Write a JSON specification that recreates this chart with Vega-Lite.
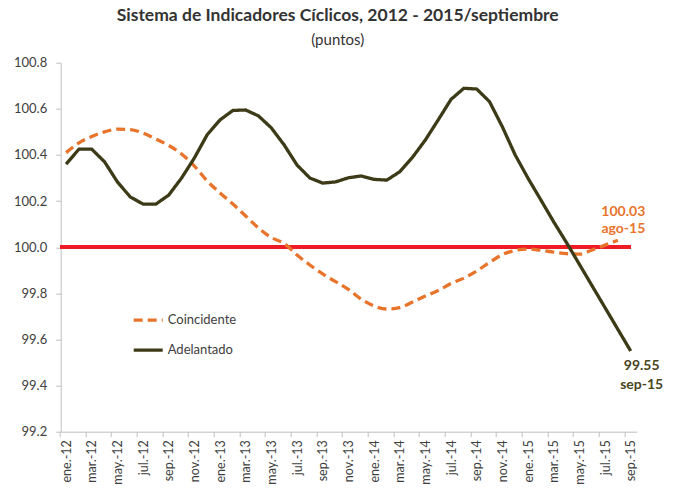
{
  "$schema": "https://vega.github.io/schema/vega-lite/v6.json",
  "autosize": {"type": "none"},
  "width": 576,
  "height": 369,
  "padding": {"left": 60.7, "top": 62.7, "right": 38.3, "bottom": 62.3},
  "background": "white",
  "config": {
    "view": {"stroke": null},
    "font": "Lato",
    "legend": {
      "orient": "none",
      "legendX": 71,
      "legendY": 241,
      "symbolType": "stroke",
      "symbolSize": 841,
      "symbolStrokeWidth": 3.3,
      "labelFontSize": 13,
      "labelColor": "#404040",
      "labelFont": "Lato",
      "labelOffset": 3,
      "rowPadding": 6,
      "padding": 0
    }
  },
  "title": {
    "text": "Sistema de Indicadores Cíclicos, 2012 - 2015/septiembre",
    "subtitle": "(puntos)",
    "anchor": "middle",
    "font": "Lato",
    "fontSize": 17.5,
    "fontWeight": "bold",
    "color": "#333333",
    "subtitleFont": "Lato",
    "subtitleFontSize": 15,
    "subtitleColor": "#333333",
    "subtitlePadding": 8,
    "offset": 9,
    "dx": -11
  },
  "datasets": {
    "series": [
      {"mes": "ene.-12", "i": 0, "serie": "Adelantado", "valor": 100.36},
      {"mes": "feb.-12", "i": 1, "serie": "Adelantado", "valor": 100.425},
      {"mes": "mar.-12", "i": 2, "serie": "Adelantado", "valor": 100.425},
      {"mes": "abr.-12", "i": 3, "serie": "Adelantado", "valor": 100.37},
      {"mes": "may.-12", "i": 4, "serie": "Adelantado", "valor": 100.283},
      {"mes": "jun.-12", "i": 5, "serie": "Adelantado", "valor": 100.218},
      {"mes": "jul.-12", "i": 6, "serie": "Adelantado", "valor": 100.187},
      {"mes": "ago.-12", "i": 7, "serie": "Adelantado", "valor": 100.187},
      {"mes": "sep.-12", "i": 8, "serie": "Adelantado", "valor": 100.226},
      {"mes": "oct.-12", "i": 9, "serie": "Adelantado", "valor": 100.3},
      {"mes": "nov.-12", "i": 10, "serie": "Adelantado", "valor": 100.387},
      {"mes": "dic.-12", "i": 11, "serie": "Adelantado", "valor": 100.488},
      {"mes": "ene.-13", "i": 12, "serie": "Adelantado", "valor": 100.552},
      {"mes": "feb.-13", "i": 13, "serie": "Adelantado", "valor": 100.593},
      {"mes": "mar.-13", "i": 14, "serie": "Adelantado", "valor": 100.595},
      {"mes": "abr.-13", "i": 15, "serie": "Adelantado", "valor": 100.569},
      {"mes": "may.-13", "i": 16, "serie": "Adelantado", "valor": 100.517},
      {"mes": "jun.-13", "i": 17, "serie": "Adelantado", "valor": 100.443},
      {"mes": "jul.-13", "i": 18, "serie": "Adelantado", "valor": 100.356},
      {"mes": "ago.-13", "i": 19, "serie": "Adelantado", "valor": 100.3},
      {"mes": "sep.-13", "i": 20, "serie": "Adelantado", "valor": 100.278},
      {"mes": "oct.-13", "i": 21, "serie": "Adelantado", "valor": 100.283},
      {"mes": "nov.-13", "i": 22, "serie": "Adelantado", "valor": 100.301},
      {"mes": "dic.-13", "i": 23, "serie": "Adelantado", "valor": 100.309},
      {"mes": "ene.-14", "i": 24, "serie": "Adelantado", "valor": 100.294},
      {"mes": "feb.-14", "i": 25, "serie": "Adelantado", "valor": 100.291},
      {"mes": "mar.-14", "i": 26, "serie": "Adelantado", "valor": 100.327},
      {"mes": "abr.-14", "i": 27, "serie": "Adelantado", "valor": 100.39},
      {"mes": "may.-14", "i": 28, "serie": "Adelantado", "valor": 100.465},
      {"mes": "jun.-14", "i": 29, "serie": "Adelantado", "valor": 100.552},
      {"mes": "jul.-14", "i": 30, "serie": "Adelantado", "valor": 100.641},
      {"mes": "ago.-14", "i": 31, "serie": "Adelantado", "valor": 100.689},
      {"mes": "sep.-14", "i": 32, "serie": "Adelantado", "valor": 100.686},
      {"mes": "oct.-14", "i": 33, "serie": "Adelantado", "valor": 100.631},
      {"mes": "nov.-14", "i": 34, "serie": "Adelantado", "valor": 100.522},
      {"mes": "dic.-14", "i": 35, "serie": "Adelantado", "valor": 100.4},
      {"mes": "ene.-15", "i": 36, "serie": "Adelantado", "valor": 100.299},
      {"mes": "feb.-15", "i": 37, "serie": "Adelantado", "valor": 100.205},
      {"mes": "mar.-15", "i": 38, "serie": "Adelantado", "valor": 100.11},
      {"mes": "abr.-15", "i": 39, "serie": "Adelantado", "valor": 100.02},
      {"mes": "may.-15", "i": 40, "serie": "Adelantado", "valor": 99.926},
      {"mes": "jun.-15", "i": 41, "serie": "Adelantado", "valor": 99.832},
      {"mes": "jul.-15", "i": 42, "serie": "Adelantado", "valor": 99.738},
      {"mes": "ago.-15", "i": 43, "serie": "Adelantado", "valor": 99.644},
      {"mes": "sep.-15", "i": 44, "serie": "Adelantado", "valor": 99.55},
      {"mes": "ene.-12", "i": 0, "serie": "Coincidente", "valor": 100.41},
      {"mes": "feb.-12", "i": 1, "serie": "Coincidente", "valor": 100.452},
      {"mes": "mar.-12", "i": 2, "serie": "Coincidente", "valor": 100.48},
      {"mes": "abr.-12", "i": 3, "serie": "Coincidente", "valor": 100.5},
      {"mes": "may.-12", "i": 4, "serie": "Coincidente", "valor": 100.512},
      {"mes": "jun.-12", "i": 5, "serie": "Coincidente", "valor": 100.51},
      {"mes": "jul.-12", "i": 6, "serie": "Coincidente", "valor": 100.495},
      {"mes": "ago.-12", "i": 7, "serie": "Coincidente", "valor": 100.469},
      {"mes": "sep.-12", "i": 8, "serie": "Coincidente", "valor": 100.441},
      {"mes": "oct.-12", "i": 9, "serie": "Coincidente", "valor": 100.404},
      {"mes": "nov.-12", "i": 10, "serie": "Coincidente", "valor": 100.352},
      {"mes": "dic.-12", "i": 11, "serie": "Coincidente", "valor": 100.287},
      {"mes": "ene.-13", "i": 12, "serie": "Coincidente", "valor": 100.235},
      {"mes": "feb.-13", "i": 13, "serie": "Coincidente", "valor": 100.187},
      {"mes": "mar.-13", "i": 14, "serie": "Coincidente", "valor": 100.135},
      {"mes": "abr.-13", "i": 15, "serie": "Coincidente", "valor": 100.083},
      {"mes": "may.-13", "i": 16, "serie": "Coincidente", "valor": 100.042},
      {"mes": "jun.-13", "i": 17, "serie": "Coincidente", "valor": 100.016},
      {"mes": "jul.-13", "i": 18, "serie": "Coincidente", "valor": 99.966},
      {"mes": "ago.-13", "i": 19, "serie": "Coincidente", "valor": 99.923},
      {"mes": "sep.-13", "i": 20, "serie": "Coincidente", "valor": 99.884},
      {"mes": "oct.-13", "i": 21, "serie": "Coincidente", "valor": 99.851},
      {"mes": "nov.-13", "i": 22, "serie": "Coincidente", "valor": 99.817},
      {"mes": "dic.-13", "i": 23, "serie": "Coincidente", "valor": 99.775},
      {"mes": "ene.-14", "i": 24, "serie": "Coincidente", "valor": 99.745},
      {"mes": "feb.-14", "i": 25, "serie": "Coincidente", "valor": 99.732},
      {"mes": "mar.-14", "i": 26, "serie": "Coincidente", "valor": 99.738},
      {"mes": "abr.-14", "i": 27, "serie": "Coincidente", "valor": 99.762},
      {"mes": "may.-14", "i": 28, "serie": "Coincidente", "valor": 99.788},
      {"mes": "jun.-14", "i": 29, "serie": "Coincidente", "valor": 99.812},
      {"mes": "jul.-14", "i": 30, "serie": "Coincidente", "valor": 99.843},
      {"mes": "ago.-14", "i": 31, "serie": "Coincidente", "valor": 99.866},
      {"mes": "sep.-14", "i": 32, "serie": "Coincidente", "valor": 99.897},
      {"mes": "oct.-14", "i": 33, "serie": "Coincidente", "valor": 99.934},
      {"mes": "nov.-14", "i": 34, "serie": "Coincidente", "valor": 99.968},
      {"mes": "dic.-14", "i": 35, "serie": "Coincidente", "valor": 99.986},
      {"mes": "ene.-15", "i": 36, "serie": "Coincidente", "valor": 99.992},
      {"mes": "feb.-15", "i": 37, "serie": "Coincidente", "valor": 99.986},
      {"mes": "mar.-15", "i": 38, "serie": "Coincidente", "valor": 99.979},
      {"mes": "abr.-15", "i": 39, "serie": "Coincidente", "valor": 99.972},
      {"mes": "may.-15", "i": 40, "serie": "Coincidente", "valor": 99.97},
      {"mes": "jun.-15", "i": 41, "serie": "Coincidente", "valor": 99.988},
      {"mes": "jul.-15", "i": 42, "serie": "Coincidente", "valor": 100.009},
      {"mes": "ago.-15", "i": 43, "serie": "Coincidente", "valor": 100.03}
    ],
    "etiquetas": [
      {"i": 43, "serie": "Coincidente", "valor": 100.03, "txt": ["100.03", "ago-15"]},
      {"i": 44, "serie": "Adelantado", "valor": 99.55, "txt": ["99.55", "sep-15"]}
    ]
  },
  "data": {"name": "series"},
  "encoding": {
    "x": {
      "field": "i",
      "type": "quantitative",
      "scale": {"domain": [-0.42, 44.47], "nice": false, "zero": false},
      "axis": {
        "title": null,
        "grid": false,
        "values": [0, 2, 4, 6, 8, 10, 12, 14, 16, 18, 20, 22, 24, 26, 28, 30, 32, 34, 36, 38, 40, 42, 44],
        "labelExpr": "['ene.','feb.','mar.','abr.','may.','jun.','jul.','ago.','sep.','oct.','nov.','dic.'][datum.value % 12] + '-' + (12 + floor(datum.value / 12))",
        "labelAngle": 270,
        "labelFont": "Lato",
        "labelFontSize": 12.5,
        "labelColor": "#404040",
        "labelPadding": 3,
        "labelFlush": false,
        "labelOverlap": false,
        "tickOffset": -6.4,
        "labelOffset": 6.4,
        "tickSize": 5,
        "tickColor": "#BFBFBF",
        "domainColor": "#BFBFBF",
        "domainWidth": 1
      }
    },
    "y": {
      "field": "valor",
      "type": "quantitative",
      "scale": {"domain": [99.2, 100.8], "nice": false, "zero": false},
      "axis": {
        "title": null,
        "grid": false,
        "values": [99.2, 99.4, 99.6, 99.8, 100.0, 100.2, 100.4, 100.6, 100.8],
        "format": ".1f",
        "labelFont": "Lato",
        "labelFontSize": 13,
        "labelColor": "#404040",
        "labelPadding": 9,
        "labelFlush": false,
        "tickSize": 5,
        "tickColor": "#BFBFBF",
        "domainColor": "#BFBFBF"
      }
    }
  },
  "layer": [
    {
      "mark": {"type": "rule", "color": "#EE1C25", "strokeWidth": 3},
      "encoding": {
        "x": {"datum": -0.42},
        "x2": {"datum": 44},
        "y": {"datum": 100}
      }
    },
    {
      "transform": [{"filter": "datum.serie === 'Coincidente'"}],
      "mark": {"type": "line", "strokeWidth": 3.3, "interpolate": "monotone"},
      "encoding": {
        "color": {
          "field": "serie", "type": "nominal", "title": null,
          "scale": {"domain": ["Coincidente", "Adelantado"], "range": ["#E8742C", "#3D3A17"]}
        },
        "strokeDash": {
          "field": "serie", "type": "nominal", "title": null,
          "scale": {"domain": ["Coincidente", "Adelantado"], "range": [[9, 5], [1, 0]]}
        }
      }
    },
    {
      "transform": [{"filter": "datum.serie === 'Adelantado'"}],
      "mark": {"type": "line", "strokeWidth": 3.3},
      "encoding": {
        "color": {"field": "serie", "type": "nominal", "title": null},
        "strokeDash": {"field": "serie", "type": "nominal", "title": null}
      }
    },
    {
      "data": {"name": "etiquetas"},
      "transform": [{"filter": "datum.serie === 'Coincidente'"}],
      "mark": {"type": "text", "font": "Lato", "fontSize": 14, "fontWeight": "bold", "color": "#E8742C", "align": "center", "baseline": "middle", "lineHeight": 17, "dx": 5.5, "dy": -28.5},
      "encoding": {"text": {"field": "txt"}}
    },
    {
      "data": {"name": "etiquetas"},
      "transform": [{"filter": "datum.serie === 'Adelantado'"}],
      "mark": {"type": "text", "font": "Lato", "fontSize": 14, "fontWeight": "bold", "color": "#4A4520", "align": "center", "baseline": "middle", "lineHeight": 18.5, "dx": 11, "dy": 15.5},
      "encoding": {"text": {"field": "txt"}}
    }
  ]
}
